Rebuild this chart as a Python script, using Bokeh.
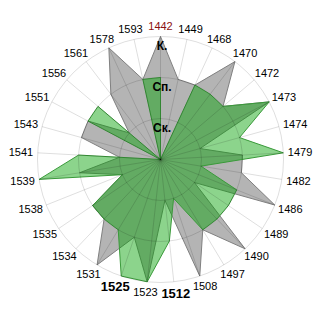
import math
from bokeh.plotting import figure
from bokeh.models import Range1d, ColumnDataSource
from bokeh.core.properties import value
from bokeh.embed import file_html
from bokeh.resources import INLINE

categories = ["1442", "1449", "1468", "1470", "1472", "1473", "1474", "1479", "1482",
              "1486", "1489", "1490", "1497", "1508", "1512", "1523", "1525", "1531",
              "1534", "1535", "1538", "1539", "1541", "1543", "1551", "1556", "1561",
              "1578", "1593"]
gray_vals = [3, 2, 2, 3, 2, 3, 1, 2, 2, 3, 1, 3, 2, 3, 1, 3, 2, 3, 2, 2, 1, 2, 1, 2, 2, 1, 2, 3, 2]
green_vals = [2, 0, 2, 2, 2, 3, 2, 3, 1, 2, 2, 2, 2, 1, 2, 3, 3, 2, 2, 2, 1, 3, 2, 0, 2, 2, 0, 0, 2]
bold_labels = ["1512", "1525"]
red_labels = ["1442"]
level_labels = ["Ск.", "Сп.", "К."]
level_vals = [1, 2, 3]

VMAX = 3
R = 123.0
N = len(categories)
FONT = value("Liberation Sans")


def pt(v, i):
    a = 2 * math.pi * i / N
    r = v / VMAX * R
    return r * math.sin(a), r * math.cos(a)


p = figure(width=320, height=320, output_backend="svg", toolbar_location=None,
           x_range=Range1d(-160, 160), y_range=Range1d(-161, 159),
           x_axis_location=None, y_axis_location=None, min_border=0)
p.grid.visible = False
p.outline_line_color = None
p.background_fill_color = "white"

gx = [pt(v, i)[0] for i, v in enumerate(gray_vals)]
gy = [pt(v, i)[1] for i, v in enumerate(gray_vals)]
p.patch(gx, gy, fill_color="#b4b4b4", fill_alpha=1.0, line_color="#808080", line_width=1)

ex = [pt(v, i)[0] for i, v in enumerate(green_vals)]
ey = [pt(v, i)[1] for i, v in enumerate(green_vals)]
p.patch(ex, ey, fill_color="#00a000", fill_alpha=0.45, line_color="#3a9a3a", line_width=1)

# grid on top
p.circle(x=[0] * len(level_vals), y=[0] * len(level_vals),
         radius=[v / VMAX * R for v in level_vals],
         fill_color=None, line_color="black", line_alpha=0.13, line_width=1)
sx = [pt(VMAX, i)[0] for i in range(N)]
sy = [pt(VMAX, i)[1] for i in range(N)]
p.segment(x0=[0] * N, y0=[0] * N, x1=sx, y1=sy, line_color="black", line_alpha=0.13, line_width=1)

# category labels
groups = {"normal": dict(xs=[], ys=[], t=[]), "bold": dict(xs=[], ys=[], t=[]),
          "red": dict(xs=[], ys=[], t=[])}
for i, c in enumerate(categories):
    a = 2 * math.pi * i / N
    if c in bold_labels:
        g, size = "bold", 13
    elif c in red_labels:
        g, size = "red", 11
    else:
        g, size = "normal", 11
    w = 0.556 * len(c) * size
    h = size * 1.05
    rl = R + 4.5
    x = rl * math.sin(a) + math.sin(a) * w / 2
    y = rl * math.cos(a) + math.cos(a) * h / 2
    groups[g]["xs"].append(x)
    groups[g]["ys"].append(y)
    groups[g]["t"].append(c)

styles = {"normal": ("normal", "11px", "#000000"), "bold": ("bold", "13px", "#000000"),
          "red": ("normal", "11px", "#8b1010")}
for g, d in groups.items():
    st, sz, col = styles[g]
    src = ColumnDataSource(dict(x=d["xs"], y=d["ys"], t=d["t"]))
    p.text(x="x", y="y", text="t", source=src, text_font=FONT, text_font_size=sz,
           text_font_style=st, text_color=col, text_align="center", text_baseline="middle")

lsrc = ColumnDataSource(dict(x=[1.5] * len(level_vals),
                             y=[v / VMAX * R - 9.3 for v in level_vals], t=level_labels))
p.text(x="x", y="y", text="t", source=lsrc, text_font=FONT, text_font_size="12px",
       text_font_style="bold", text_color="#000000", text_align="center", text_baseline="middle")

open("out.html", "w").write(file_html(p, INLINE))
